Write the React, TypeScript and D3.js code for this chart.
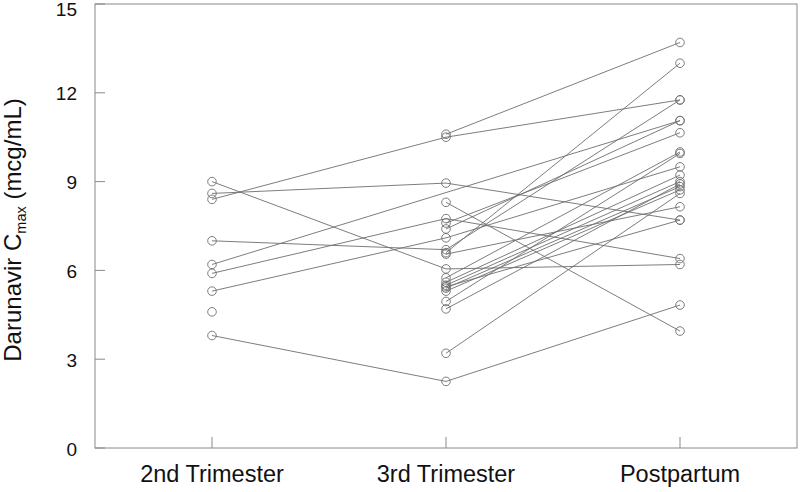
import React from "react";
import * as d3 from "d3";

const categories = ["2nd Trimester", "3rd Trimester", "Postpartum"];
const yTicks = [0, 3, 6, 9, 12, 15];

// per-subject values (null = not measured)
const secondTrimester: (number | null)[] = [9.0, 8.6, 8.4, 7.0, 6.2, 5.9, 5.3, 4.6, 3.8, null, null, null, null, null, null, null, null, null, null, null, null, null, null, null];
const thirdTrimester: (number | null)[] = [6.05, 8.95, 10.5, 6.7, null, 7.75, 7.1, null, 2.25, 10.6, 8.3, 7.6, 7.4, 6.6, 5.75, 5.6, 5.5, 5.4, 5.3, 4.95, 4.7, 3.2, 6.55, 5.45];
const postpartum: (number | null)[] = [6.2, 7.7, 11.76, 11.76, 11.06, 6.4, 9.5, null, 4.83, 13.7, 3.95, 10.65, 11.06, 13.0, 10.0, 9.22, 9.0, 8.83, 8.72, 9.95, 8.92, 8.6, 8.15, 7.7];

const W = 800, H = 492;
const left = 95, right = 797, top = 4, bottom = 448;

export default function App() {
  const x = d3.scaleLinear().domain([0.5, 3.5]).range([left, right]);
  const y = d3.scaleLinear().domain([0, 15]).range([bottom, top]);
  const series = [secondTrimester, thirdTrimester, postpartum];
  const n = secondTrimester.length;
  const subjects = d3.range(n).map((i) =>
    series.map((s, k) => ({ k: k + 1, v: s[i] })).filter((p) => p.v !== null) as { k: number; v: number }[]
  );
  const line = d3.line<{ k: number; v: number }>().x((d) => x(d.k)).y((d) => y(d.v));
  const font = "'Liberation Sans', Arial, Helvetica, sans-serif";
  const stroke = "#6e6e6e";
  return (
    <svg width={W} height={H} style={{ position: "absolute", left: 0, top: 0, background: "#fff" }} fontFamily={font}>
      <rect x={left} y={top} width={right - left} height={bottom - top} fill="none" stroke="#8a8a8a" strokeWidth={1} />
      {yTicks.map((t) => (
        <g key={t}>
          <line x1={left} x2={left + 10} y1={y(t)} y2={y(t)} stroke="#8a8a8a" />
          <text x={77} y={Math.max(y(t) + 7.5, 16)} textAnchor="end" fontSize={19} fill="#111">{t}</text>
        </g>
      ))}
      {categories.map((c, i) => (
        <g key={c}>
          <line x1={x(i + 1)} x2={x(i + 1)} y1={bottom} y2={bottom - 11} stroke="#8a8a8a" />
          <text x={x(i + 1)} y={482} textAnchor="middle" fontSize={23.5} fill="#111">{c}</text>
        </g>
      ))}
      <text transform={`translate(21, ${(top + bottom) / 2 + 4}) rotate(-90)`} textAnchor="middle" fontSize={24} fill="#111">
        Darunavir C<tspan fontSize={14.5} dy={5}>max</tspan><tspan dy={-5}> (mcg/mL)</tspan>
      </text>
      {subjects.map((pts, i) =>
        pts.length > 1 ? <path key={"l" + i} d={line(pts) || ""} fill="none" stroke={stroke} strokeWidth={0.9} /> : null
      )}
      {subjects.map((pts, i) =>
        pts.map((p) => (
          <circle key={"c" + i + "-" + p.k} cx={x(p.k)} cy={y(p.v)} r={4.3} fill="none" stroke={stroke} strokeWidth={0.9} />
        ))
      )}
    </svg>
  );
}
